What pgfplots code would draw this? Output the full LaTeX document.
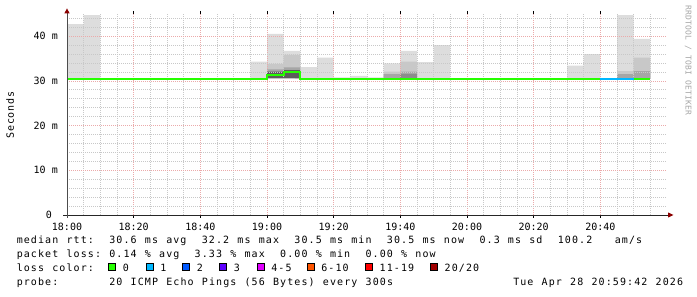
\documentclass[border=0pt]{standalone}
\usepackage{fontspec}
\setmainfont{DejaVu Sans Mono}
\usepackage{pgfplots}
\usepackage{pgfplotstable}
\pgfplotsset{compat=1.18}

% loss colours of the median line
\definecolor{loss0}{HTML}{26FF00}
\definecolor{loss1}{HTML}{00B8FF}
\definecolor{loss2}{HTML}{0059FF}
\definecolor{loss3}{HTML}{5E00FF}
\definecolor{loss4}{HTML}{E000FF}
\definecolor{loss6}{HTML}{FF5500}
\definecolor{loss11}{HTML}{FF0000}
\definecolor{loss20}{HTML}{A10000}
% smoke shades, outer to inner
\definecolor{smoke0}{HTML}{DDDDDD}
\definecolor{smoke1}{HTML}{C8C8C8}
\definecolor{smoke2}{HTML}{A6A6A6}
\definecolor{smoke3}{HTML}{8C8C8C}
\definecolor{smoke4}{HTML}{5C5C5C}
% grid
\definecolor{mgrid}{HTML}{EBAAAA}
\definecolor{ngrid}{HTML}{C8C8C8}
\definecolor{arrowred}{HTML}{8B0000}

\newcommand\axisfont{\fontsize{10}{12}\selectfont}

% fixed-pitch text: every token in a cell of the given width
\ExplSyntaxOn
\NewDocumentCommand \mono { O{7.12pt} m }
  { \tl_map_inline:nn {#2} { \makebox[#1][c]{##1} } }
\ExplSyntaxOff

% minutes after 18:00; smoke outlines (step tops, ms), one block per gap-free run
\pgfplotstableread{
t   ms
0   30.4
0   42.7
5   42.7
5   44.7
10  44.7
10  30.4

55  30.4
55  34.3
60  34.3
60  40.5
65  40.5
65  36.7
70  36.7
70  33.1
75  33.1
75  35.2
80  35.2
80  30.8
85  30.8
85  31.1
90  31.1
90  30.8
95  30.8
95  33.9
100 33.9
100 36.7
105 36.7
105 34.2
110 34.2
110 38.0
115 38.0
115 30.4

150 30.4
150 33.4
155 33.4
155 36.0
160 36.0
160 30.4

165 30.4
165 44.7
170 44.7
170 39.4
175 39.4
175 30.4
}\smokeA

\pgfplotstableread{
t   ms
60  30.6
60  33.8
65  33.8
65  35.8
70  35.8
70  30.5

95  30.5
95  32.1
100 32.1
100 34.3
105 34.3
105 30.5

165 30.5
165 32.2
170 32.2
170 35.2
175 35.2
175 30.5
}\smokeB

\pgfplotstableread{
t   ms
60  30.6
60  32.6
65  32.6
65  33.0
70  33.0
70  30.6

95  30.5
95  31.5
100 31.5
100 32.1
105 32.1
105 30.5

165 30.5
165 31.5
170 31.5
170 32.2
175 32.2
175 30.5
}\smokeC

\pgfplotstableread{
t   ms
100 30.5
100 31.5
105 31.5
105 30.5
}\smokeD

\pgfplotstableread{
t   ms
60  30.6
60  32.1
65  32.1
65  32.4
70  32.4
70  30.6
}\smokeE

% median rtt per 5-minute step (last row closes the final step)
\pgfplotstableread{
t   med
0   30.5
5   30.5
10  30.5
15  30.5
20  30.5
25  30.5
30  30.5
35  30.5
40  30.5
45  30.5
50  30.5
55  30.5
60  31.3
65  32.1
70  30.5
75  30.5
80  30.5
85  30.5
90  30.5
95  30.5
100 30.5
105 30.5
110 30.5
115 30.5
120 30.5
125 30.5
130 30.5
135 30.5
140 30.5
145 30.5
150 30.5
155 30.5
160 30.5
165 30.5
170 30.5
175 30.5
}\median

\begin{document}
\begin{tikzpicture}
\begin{axis}[
  name=ax, set layers,
  at={(67pt,82pt)}, anchor=south west,
  scale only axis, width=600pt, height=201.15pt,
  xmin=0, xmax=180, ymin=0, ymax=45,
  axis line style={draw=none},
  xtick={0,20,...,160},
  xticklabels={18:00,18:20,18:40,19:00,19:20,19:40,20:00,20:20,20:40},
  minor xtick={5,10,...,175},
  ytick={0,10,20,30,40},
  yticklabels={0~~,10~m,20~m,30~m,40~m},
  minor ytick={2,4,...,44},
  grid=both,
  major grid style={draw=mgrid, dash pattern=on 1pt off 1pt, line width=0.75pt},
  minor grid style={draw=ngrid, dash pattern=on 1pt off 1pt, line width=0.75pt},
  tick align=outside, major tick length=3pt, minor tick length=0pt,
  xtick style={black, line width=0.8pt}, ytick style={draw=none},
  xticklabel style={font=\axisfont, anchor=base, inner sep=0pt, yshift=-13pt},
  yticklabel style={font=\axisfont, anchor=base east, inner sep=0pt, xshift=-6pt, yshift=-3.5pt},
]
% smoke, lightest band first
\addplot[on layer=axis background, fill=smoke0, draw=none, forget plot] table[x=t, y=ms] {\smokeA};
\addplot[on layer=axis background, fill=smoke1, draw=none, forget plot] table[x=t, y=ms] {\smokeB};
\addplot[on layer=axis background, fill=smoke2, draw=none, forget plot] table[x=t, y=ms] {\smokeC};
\addplot[on layer=axis background, fill=smoke3, draw=none, forget plot] table[x=t, y=ms] {\smokeD};
\addplot[on layer=axis background, fill=smoke4, draw=none, forget plot] table[x=t, y=ms] {\smokeE};
% median rtt, coloured by packet loss
\addplot[const plot, draw=loss0, line width=2pt, restrict x to domain=0:160] table[x=t, y=med] {\median};
\addplot[const plot, draw=loss1, line width=2pt, restrict x to domain=160:170] table[x=t, y=med] {\median};
\addplot[const plot, draw=loss0, line width=2pt, restrict x to domain=170:175] table[x=t, y=med] {\median};
\end{axis}
% axis lines with arrow heads
\draw[black!85, line width=0.8pt] ([xshift=-4pt]ax.south west) -- ([xshift=2pt]ax.south east);
\draw[black!70, line width=0.8pt] ([yshift=-3pt]ax.south west) -- ([yshift=1pt]ax.north west);
\fill[arrowred] ([xshift=1pt,yshift=2.6pt]ax.south east) -- ++(5.5pt,-2.6pt) -- ++(-5.5pt,-2.6pt) -- cycle;
\fill[arrowred] ([xshift=-2.6pt,yshift=0.5pt]ax.north west) -- ++(2.6pt,5pt) -- ++(2.6pt,-5pt) -- cycle;
% axis title and watermark
\node[rotate=90, anchor=base, inner sep=0pt] at (14pt,182pt) {\axisfont\mono[6.7pt]{Seconds}};
\node[rotate=-90, anchor=base west, inner sep=0pt, text=black!35] at (685.5pt,292pt)
  {\fontsize{8}{8}\selectfont\mono[5pt]{RRDTOOL~/~TOBI~OETIKER}};
% statistics
\begin{scope}[every node/.style={anchor=base west, inner sep=0pt, font=\axisfont}]
\node at (16pt,53pt) {\mono{median~rtt:~~30.6~ms~avg~~32.2~ms~max~~30.5~ms~min~~30.5~ms~now~~0.3~ms~sd~~100.2~~~am/s}};
\node at (16pt,39pt) {\mono{packet~loss:~0.14~\%~avg~~3.33~\%~max~~0.00~\%~min~~0.00~\%~now}};
\node at (16pt,25pt) {\mono{loss~color:}};
\node at (16pt,11pt) {\mono{probe:}};
\node at (108.6pt,11pt) {\mono{20~ICMP~Echo~Pings~(56~Bytes)~every~300s}};
\node at (512.5pt,11pt) {\mono{Tue~Apr~28~20:59:42~2026}};
% loss colour key
\node at (122.2pt,25pt) {\mono{0}};
\node at (159.6pt,25pt) {\mono{1}};
\node at (196.2pt,25pt) {\mono{2}};
\node at (233.2pt,25pt) {\mono{3}};
\node at (270.6pt,25pt) {\mono{4-5}};
\node at (320.6pt,25pt) {\mono{6-10}};
\node at (378.9pt,25pt) {\mono{11-19}};
\node at (443.9pt,25pt) {\mono{20/20}};
\end{scope}
\foreach \x/\c in {108.3/loss0,145.7/loss1,182.3/loss2,219.3/loss3,256.7/loss4,306.7/loss6,365/loss11,430/loss20}
  \draw[fill=\c, draw=black, line width=1pt] (\x pt+0.5pt,26.5pt) rectangle ++(7pt,7pt);
% page covers exactly the drawing area
\pgfresetboundingbox
\useasboundingbox (0pt,0pt) rectangle (697pt,297pt);
\end{tikzpicture}
\end{document}
